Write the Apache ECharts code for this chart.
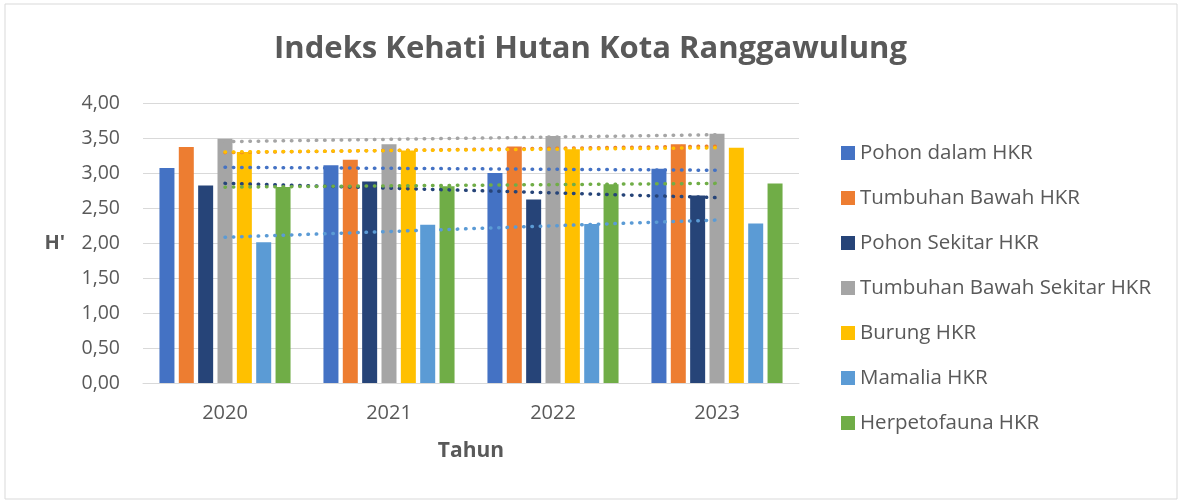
<!DOCTYPE html>
<html>
<head>
<meta charset="utf-8">
<script src="https://cdn.jsdelivr.net/npm/echarts@6/dist/echarts.min.js"></script>
<style>
  html, body { margin: 0; padding: 0; background: #fff; }
  #chart { width: 1181px; height: 501px; }
</style>
</head>
<body>
<div id="chart"></div>
<script>
var years = ['2020', '2021', '2022', '2023'];

var seriesNames = [
    'Pohon dalam HKR',
    'Tumbuhan Bawah HKR',
    'Pohon Sekitar HKR',
    'Tumbuhan Bawah Sekitar HKR',
    'Burung HKR',
    'Mamalia HKR',
    'Herpetofauna HKR'
];

var pohonDalam = [3.07, 3.11, 3.00, 3.06];
var tumbuhanBawah = [3.37, 3.19, 3.38, 3.41];
var pohonSekitar = [2.82, 2.88, 2.62, 2.68];
var tumbuhanBawahSekitar = [3.49, 3.41, 3.53, 3.56];
var burung = [3.30, 3.32, 3.34, 3.36];
var mamalia = [2.01, 2.26, 2.27, 2.28];
var herpetofauna = [2.80, 2.81, 2.84, 2.85];

var colors = ['#4472C4', '#ED7D31', '#264478', '#A5A5A5', '#FFC000', '#5B9BD5', '#70AD47'];
var textColor = '#595959';
var fontFamily = '"Open Sans", "Noto Sans", sans-serif';

var allValues = [pohonDalam, tumbuhanBawah, pohonSekitar, tumbuhanBawahSekitar, burung, mamalia, herpetofauna];

// linear trendline (least squares) like Excel
function trend(vals) {
    var n = vals.length, sx = 0, sy = 0, sxy = 0, sxx = 0;
    for (var i = 0; i < n; i++) {
        sx += i; sy += vals[i]; sxy += i * vals[i]; sxx += i * i;
    }
    var b = (n * sxy - sx * sy) / (n * sxx - sx * sx);
    var a = (sy - b * sx) / n;
    return vals.map(function (v, i) { return +(a + b * i).toFixed(4); });
}

var series = [];
allValues.forEach(function (vals, i) {
    series.push({
        name: seriesNames[i],
        type: 'bar',
        data: vals,
        barWidth: 15,
        barGap: '29%',
        itemStyle: { color: colors[i] }
    });
});
allValues.forEach(function (vals, i) {
    series.push({
        name: 'Linear (' + seriesNames[i] + ')',
        type: 'line',
        data: trend(vals),
        symbol: 'none',
        z: 5,
        silent: true,
        lineStyle: { color: colors[i], width: 3.5, type: [0.5, 7.8], cap: 'round' }
    });
});

var chart = echarts.init(document.getElementById('chart'), null, {renderer: 'canvas'});

chart.setOption({
    animation: false,
    backgroundColor: '#fff',
    title: {
        text: 'Indeks Kehati Hutan Kota Ranggawulung',
        left: 'center',
        top: 29,
        textStyle: { fontFamily: fontFamily, fontSize: 31, fontWeight: 'bold', color: textColor }
    },
    graphic: [{
        type: 'rect',
        shape: { x: 5, y: 4, width: 1172, height: 495 },
        style: { fill: 'none', stroke: '#d9d9d9', lineWidth: 1 },
        silent: true
    }],
    legend: {
        data: seriesNames,
        orient: 'vertical',
        left: 836,
        top: 137,
        itemWidth: 14,
        itemHeight: 14,
        itemGap: 23,
        icon: 'rect',
        textStyle: { fontFamily: fontFamily, fontSize: 20.5, lineHeight: 22, color: textColor }
    },
    grid: { left: 143, right: 382, top: 103, bottom: 118 },
    xAxis: {
        type: 'category',
        data: years,
        name: 'Tahun',
        nameLocation: 'middle',
        nameGap: 58,
        nameTextStyle: { fontFamily: fontFamily, fontSize: 21, fontWeight: 'bold', color: textColor },
        axisLine: { lineStyle: { color: '#d9d9d9', width: 1 } },
        axisTick: { show: false },
        axisLabel: { margin: 20, fontFamily: fontFamily, fontSize: 20, color: textColor }
    },
    yAxis: {
        type: 'value',
        min: 0,
        max: 4,
        interval: 0.5,
        name: "H'",
        nameLocation: 'middle',
        nameRotate: 0,
        nameGap: 78,
        nameTextStyle: { fontFamily: fontFamily, fontSize: 20, fontWeight: 'bold', color: textColor },
        axisLine: { show: false },
        axisTick: { show: false },
        splitLine: { lineStyle: { color: '#d9d9d9', width: 1 } },
        axisLabel: {
            margin: 23,
            fontFamily: fontFamily,
            fontSize: 19.5,
            color: textColor,
            formatter: function (v) { return v.toFixed(2).replace('.', ','); }
        }
    },
    series: series
});
</script>
</body>
</html>
